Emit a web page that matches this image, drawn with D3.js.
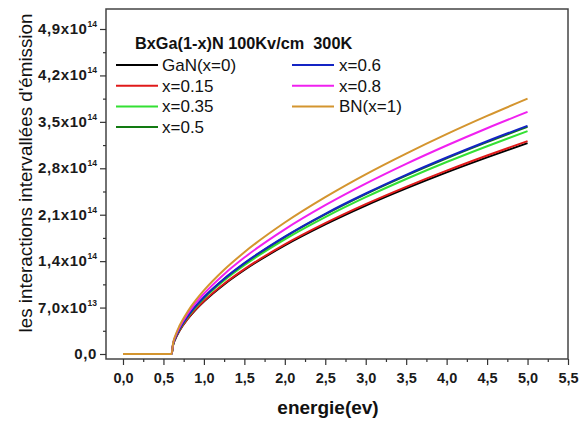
<!DOCTYPE html>
<html>
<head>
<meta charset="utf-8">
<script src="https://cdn.jsdelivr.net/npm/d3@7"></script>
<style>
  html, body { margin: 0; padding: 0; background: #fff; }
  svg { display: block; font-family: "Liberation Sans", Arial, sans-serif; }
</style>
</head>
<body>
<svg id="chart" width="588" height="421"></svg>
<script>
// Photon energy (eV)
const energy = [0, 0.6, 0.62, 0.65, 0.7, 0.8, 0.9, 1.0, 1.25, 1.5, 2.0, 2.5, 3.0, 3.5, 4.0, 4.5, 5.0];

// Emission interval interactions, in units of 1e14
const gan   = [0, 0, 0.139, 0.237, 0.354, 0.529, 0.670, 0.791, 1.049, 1.267, 1.637, 1.954, 2.238, 2.497, 2.739, 2.965, 3.180];
const x015  = [0, 0, 0.141, 0.239, 0.357, 0.534, 0.676, 0.799, 1.059, 1.279, 1.652, 1.972, 2.259, 2.520, 2.764, 2.993, 3.210];
const x035  = [0, 0, 0.147, 0.250, 0.374, 0.559, 0.708, 0.836, 1.108, 1.338, 1.729, 2.064, 2.364, 2.638, 2.894, 3.133, 3.360];
const x05   = [0, 0, 0.150, 0.255, 0.381, 0.570, 0.722, 0.852, 1.130, 1.364, 1.763, 2.104, 2.410, 2.689, 2.950, 3.194, 3.425];
const x06   = [0, 0, 0.151, 0.256, 0.383, 0.572, 0.725, 0.856, 1.135, 1.370, 1.770, 2.114, 2.420, 2.701, 2.962, 3.208, 3.440];
const x08   = [0, 0, 0.160, 0.272, 0.406, 0.607, 0.769, 0.908, 1.204, 1.454, 1.879, 2.243, 2.568, 2.866, 3.143, 3.404, 3.650];
const bn    = [0, 0, 0.169, 0.287, 0.429, 0.641, 0.811, 0.958, 1.270, 1.534, 1.982, 2.365, 2.709, 3.022, 3.315, 3.590, 3.850];

const seriesNames  = ["GaN(x=0)", "x=0.15", "x=0.35", "x=0.5", "x=0.6", "x=0.8", "BN(x=1)"];
const seriesValues = [gan, x015, x035, x05, x06, x08, bn];
const seriesColors = ["#000000", "#e01a1a", "#33e033", "#127a12", "#1424c4", "#f020f0", "#d4952f"];

// Axis ticks
const xTicks = [0, 0.5, 1.0, 1.5, 2.0, 2.5, 3.0, 3.5, 4.0, 4.5, 5.0, 5.5];
const xTickLabels = ["0,0", "0,5", "1,0", "1,5", "2,0", "2,5", "3,0", "3,5", "4,0", "4,5", "5,0", "5,5"];
const yTicks = [0, 0.7, 1.4, 2.1, 2.8, 3.5, 4.2, 4.9];
const yTickMantissa = ["0,0", "7,0x10", "1,4x10", "2,1x10", "2,8x10", "3,5x10", "4,2x10", "4,9x10"];
const yTickExponent = ["", "13", "14", "14", "14", "14", "14", "14"];

const titleText = "BxGa(1-x)N 100Kv/cm  300K";
const xTitle = "energie(ev)";
const yTitle = "les interactions intervallées d'émission";

const svg = d3.select("#chart");
const plot = { left: 106, right: 568, top: 9, bottom: 359 };

const x = d3.scaleLinear().domain([-0.21, 5.5]).range([plot.left, plot.right]);
const y = d3.scaleLinear().domain([-0.0754, 5.2015]).range([plot.bottom, plot.top]);

// Curves
const line = d3.line()
  .x((d, i) => x(energy[i]))
  .y(d => y(d))
  .curve(d3.curveMonotoneX);

svg.append("g")
  .selectAll("path")
  .data(seriesValues)
  .join("path")
  .attr("d", d => line(d))
  .attr("fill", "none")
  .attr("stroke", (d, i) => seriesColors[i])
  .attr("stroke-width", 2);

// Frame
svg.append("rect")
  .attr("x", plot.left).attr("y", plot.top)
  .attr("width", plot.right - plot.left).attr("height", plot.bottom - plot.top)
  .attr("fill", "none").attr("stroke", "#444").attr("stroke-width", 1.5);

// X axis
const xMinor = d3.range(0.25, 5.5, 0.5);
const xAxis = svg.append("g").attr("transform", `translate(0,${plot.bottom})`);
xAxis.call(d3.axisBottom(x).tickValues(xMinor).tickSize(3).tickSizeOuter(0).tickFormat(""));
xAxis.call(g => g.select(".domain").remove());
const xMajor = svg.append("g").attr("transform", `translate(0,${plot.bottom})`)
  .call(d3.axisBottom(x).tickValues(xTicks).tickSize(6).tickSizeOuter(0)
    .tickFormat((d, i) => xTickLabels[i]));
xMajor.select(".domain").remove();
xMajor.selectAll("text")
  .attr("font-family", "Liberation Sans, Arial, sans-serif")
  .attr("font-size", 14.5).attr("font-weight", "bold").attr("fill", "#1a1a1a")
  .attr("dy", "1.05em");

// Y axis
const yMinor = d3.range(0.35, 5.2, 0.7);
const yAxisMinor = svg.append("g").attr("transform", `translate(${plot.left},0)`)
  .call(d3.axisLeft(y).tickValues(yMinor).tickSize(3).tickSizeOuter(0).tickFormat(""));
yAxisMinor.select(".domain").remove();
const yAxis = svg.append("g").attr("transform", `translate(${plot.left},0)`)
  .call(d3.axisLeft(y).tickValues(yTicks).tickSize(6).tickSizeOuter(0).tickFormat(""));
yAxis.select(".domain").remove();
svg.selectAll(".tick line").attr("stroke", "#333").attr("stroke-width", 1.2);

const yLabels = svg.append("g");
yTicks.forEach((v, i) => {
  const t = yLabels.append("text")
    .attr("x", 97).attr("y", y(v) + 5)
    .attr("text-anchor", "end")
    .attr("font-size", 15).attr("font-weight", "bold").attr("fill", "#1a1a1a")
    .attr("letter-spacing", 0.6);
  t.append("tspan").text(yTickMantissa[i]);
  if (yTickExponent[i]) {
    t.append("tspan").attr("font-size", 8.5).attr("dy", -7).attr("letter-spacing", 0).text(yTickExponent[i]);
  }
});

// Axis titles
svg.append("text")
  .attr("x", 328).attr("y", 414)
  .attr("text-anchor", "middle")
  .attr("font-size", 19).attr("font-weight", "bold").attr("fill", "#111")
  .text(xTitle);

svg.append("text")
  .attr("transform", "translate(32,173) rotate(-90)")
  .attr("text-anchor", "middle")
  .attr("font-size", 18.8).attr("fill", "#111")
  .text(yTitle);

// Legend
svg.append("text")
  .attr("x", 135).attr("y", 48.5)
  .attr("font-size", 16.3).attr("font-weight", "bold").attr("fill", "#111")
  .style("white-space", "pre")
  .text(titleText);

const legendCols = [{ lx: 116, tx: 162 }, { lx: 292, tx: 339 }];
const legendRowY = [65, 85.7, 106.4, 127.1];
const legendPos = [[0, 0], [0, 1], [0, 2], [0, 3], [1, 0], [1, 1], [1, 2]];
const legend = svg.append("g");
seriesNames.forEach((name, i) => {
  const [c, r] = legendPos[i];
  const col = legendCols[c];
  const yy = legendRowY[r];
  legend.append("line")
    .attr("x1", col.lx).attr("x2", col.lx + 42)
    .attr("y1", yy).attr("y2", yy)
    .attr("stroke", seriesColors[i]).attr("stroke-width", 2);
  legend.append("text")
    .attr("x", col.tx).attr("y", yy + 6)
    .attr("font-size", 17).attr("fill", "#111")
    .text(name);
});
</script>
</body>
</html>
